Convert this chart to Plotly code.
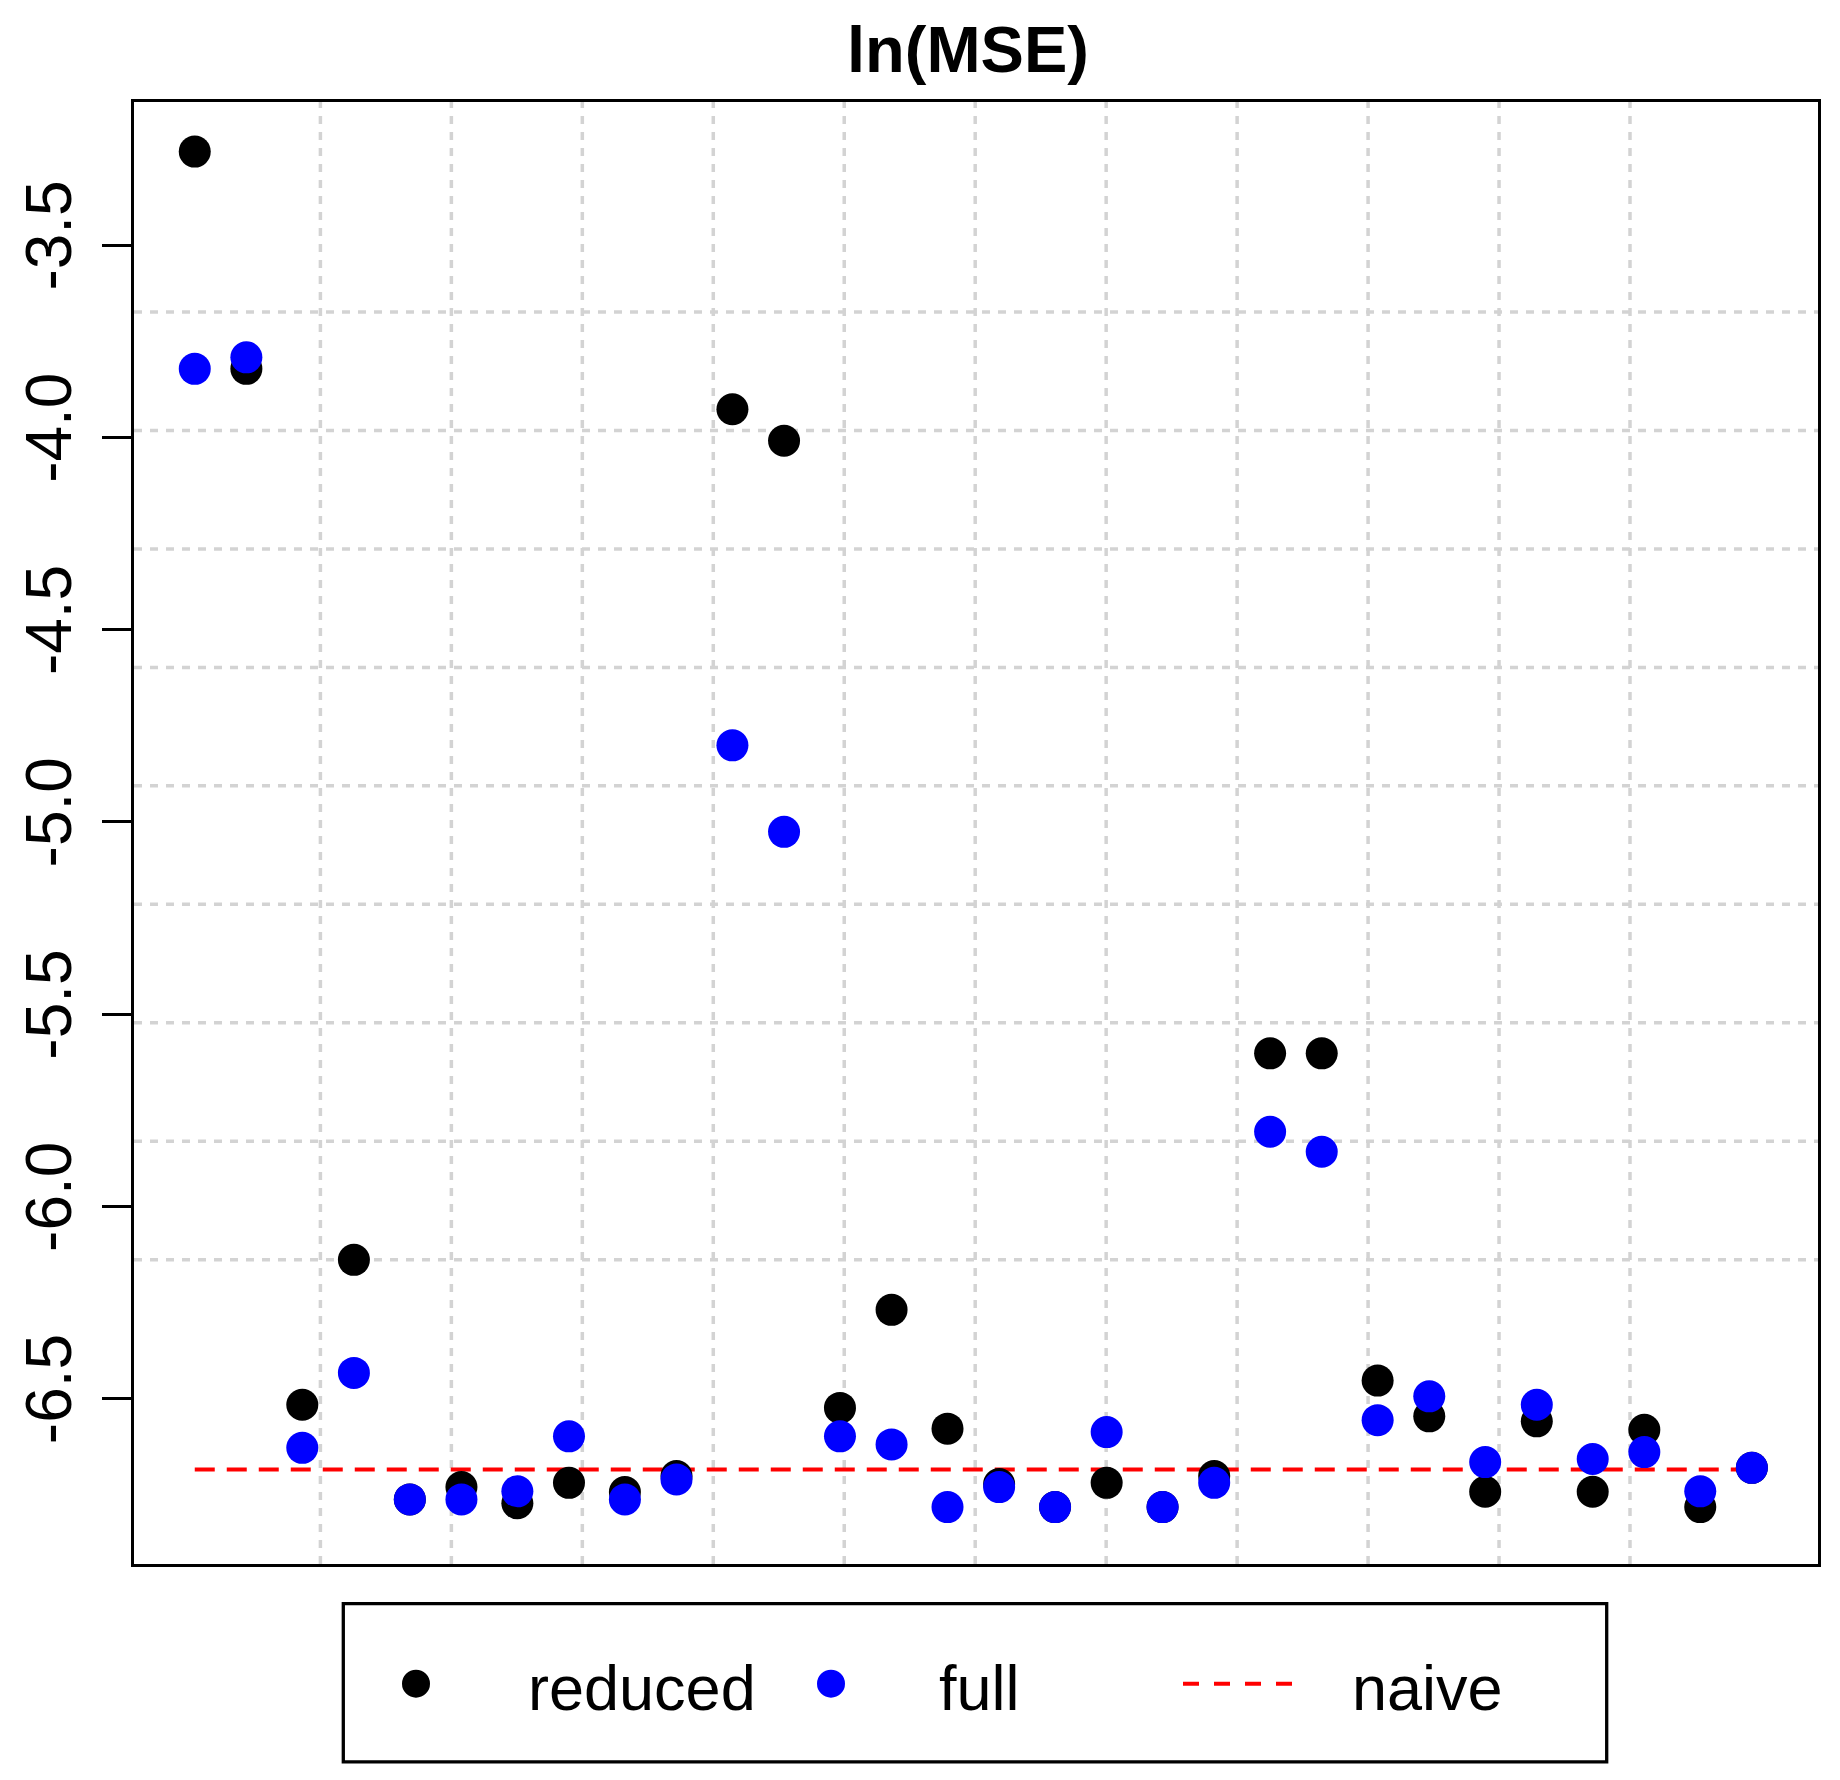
import plotly.graph_objects as go

# ---------------- data ----------------
n_pairs = 15
reduced = [-3.257, -3.822, -6.516, -6.139, -6.762, -6.730, -6.772, -6.719, -6.743, -6.701,
           -3.927, -4.009, -6.524, -6.269, -6.578, -6.722, -6.782, -6.719, -6.782, -6.701,
           -5.602, -5.602, -6.453, -6.546, -6.742, -6.559, -6.742, -6.581, -6.782, -6.680]
full = [-3.822, -3.792, -6.628, -6.433, -6.762, -6.762, -6.741, -6.598, -6.762, -6.710,
        -4.801, -5.026, -6.598, -6.619, -6.782, -6.730, -6.782, -6.587, -6.782, -6.719,
        -5.806, -5.858, -6.556, -6.494, -6.665, -6.516, -6.657, -6.639, -6.741, -6.680]
naive = -6.684
y_ticks = [-6.5, -6.0, -5.5, -5.0, -4.5, -4.0, -3.5]
y_ticktext = ["-6.5", "-6.0", "-5.5", "-5.0", "-4.5", "-4.0", "-3.5"]
title_text = "ln(MSE)"
legend_labels = ["reduced", "full", "naive"]

# x positions: two points per group
x = [k + d for k in range(1, n_pairs + 1) for d in (-0.24, 0.24)]

# ---------------- geometry (page pixels; the page body has an 8px margin) ----------------
OFF = 8
W, H = 1824, 1764
L, R, T, B = 134, 1818, 102, 1564.3
FONT = "Liberation Sans, Arial, sans-serif"


def px_x(p):
    return (p - L) / (R - L)


def px_y(p):
    return (B - p) / (B - T)


fig = go.Figure()

fig.add_trace(go.Scatter(x=[x[0], x[-1]], y=[naive, naive], mode="lines",
                         line=dict(color="#ff0000", width=4, dash="20px,12px"),
                         showlegend=False, hoverinfo="skip"))
fig.add_trace(go.Scatter(x=x, y=reduced, mode="markers",
                         marker=dict(color="#000000", size=32, line=dict(width=0)),
                         name="reduced", showlegend=False))
fig.add_trace(go.Scatter(x=x, y=full, mode="markers",
                         marker=dict(color="#0000ff", size=32, line=dict(width=0)),
                         name="full", showlegend=False))

shapes = []
grid_color = "#d3d3d3"
for k in range(11):
    gx = px_x(320.4 + k * 130.96)
    shapes.append(dict(type="line", xref="paper", yref="paper", x0=gx, x1=gx, y0=0, y1=1,
                       line=dict(color=grid_color, width=3.5, dash="8px,8px"), layer="below"))
for k in range(9):
    gy = px_y(312 + k * 118.5)
    shapes.append(dict(type="line", xref="paper", yref="paper", x0=0, x1=1, y0=gy, y1=gy,
                       line=dict(color=grid_color, width=3.5, dash="8px,8px"), layer="below"))

# legend box
shapes.append(dict(type="rect", xref="paper", yref="paper",
                   x0=px_x(343.3), x1=px_x(1606.7), y0=px_y(1762.3), y1=px_y(1604),
                   line=dict(color="black", width=3.3), fillcolor="rgba(0,0,0,0)"))
ly = px_y(1684)
for cx, col in [(416, "#000000"), (831, "#0000ff")]:
    shapes.append(dict(type="circle", xref="paper", yref="paper", xsizemode="pixel", ysizemode="pixel",
                       xanchor=px_x(cx), yanchor=ly, x0=-14, x1=14, y0=-14, y1=14,
                       fillcolor=col, line=dict(width=0)))
shapes.append(dict(type="line", xref="paper", yref="paper", x0=px_x(1183), x1=px_x(1295),
                   y0=ly, y1=ly, line=dict(color="#ff0000", width=4, dash="16px,15px")))

annotations = []
for lbl, lx in zip(legend_labels, [526, 937, 1350]):
    annotations.append(dict(text=lbl, xref="paper", yref="paper", x=px_x(lx), y=px_y(1688),
                            xanchor="left", yanchor="middle", showarrow=False,
                            font=dict(family=FONT, size=63, color="black")))
annotations.append(dict(text="<b>" + title_text + "</b>", xref="paper", yref="paper",
                        x=px_x(968), y=px_y(49), xanchor="center", yanchor="middle",
                        showarrow=False, font=dict(family=FONT, size=65, color="black")))

fig.update_layout(
    width=W, height=H,
    margin=dict(l=L - OFF, r=W - (R - OFF), t=T - OFF, b=H - (B - OFF), pad=0, autoexpand=False),
    paper_bgcolor="white", plot_bgcolor="white",
    shapes=shapes, annotations=annotations,
    showlegend=False,
    xaxis=dict(range=[0.195, 15.855], showgrid=False, zeroline=False, showticklabels=False,
               ticks="", showline=True, mirror=True, linecolor="black", linewidth=3,
               automargin=False),
    yaxis=dict(range=[-6.930, -3.128], showgrid=False, zeroline=False,
               tickvals=y_ticks, ticktext=y_ticktext, tickangle=-90,
               ticks="outside", ticklen=29, tickwidth=3, tickcolor="black",
               ticklabelstandoff=5, automargin=False,
               tickfont=dict(family=FONT, size=64, color="black"),
               showline=True, mirror=True, linecolor="black", linewidth=3),
)

fig.write_html("out.html")
